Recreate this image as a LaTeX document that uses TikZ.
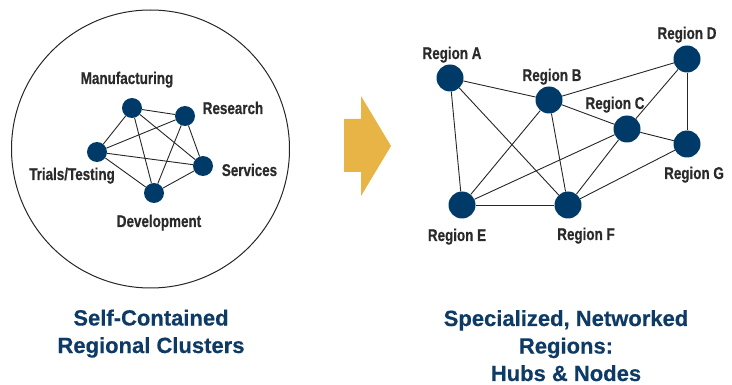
\documentclass[tikz,border=0pt]{standalone}
\usepackage{fontspec}
\setmainfont{Liberation Sans}
\newfontfamily\labelfont{Liberation Sans Bold}[FakeStretch=0.79, FakeBold=0.6]
\newfontfamily\titlefont{Liberation Sans Bold}[FakeBold=0.4]
\definecolor{hubnavy}{HTML}{003A68}
\definecolor{titlenavy}{HTML}{0D3B66}
\definecolor{labelgray}{HTML}{2A2A2A}
\definecolor{arrowgold}{HTML}{E8B446}
\begin{document}
\begin{tikzpicture}[x=1pt,y=-1pt,
  edge/.style={draw=black!85, line width=0.9pt},
  smallhub/.style={circle, fill=hubnavy, draw=none, minimum size=20pt, inner sep=0pt},
  bighub/.style={circle, fill=hubnavy, draw=none, minimum size=27pt, inner sep=0pt},
  hublabel/.style={anchor=base, inner sep=0pt, text=labelgray, font=\labelfont\fontsize{17}{17}\selectfont},
  titletext/.style={anchor=base, inner sep=0pt, text=titlenavy, align=center, font=\titlefont\fontsize{22}{27.5}\selectfont}]
\useasboundingbox (0,0) rectangle (732,385);

% enclosing cluster boundary
\draw[draw=black!85, line width=1pt] (150.5,149) circle[radius=139];

% cluster hubs
\node[smallhub] (mfg) at (132,108) {};
\node[smallhub] (res) at (185,116) {};
\node[smallhub] (tri) at (97,152) {};
\node[smallhub] (svc) at (203,166) {};
\node[smallhub] (dev) at (154,193) {};

% every cluster hub linked to every other
\foreach \a/\b in {mfg/res, mfg/tri, mfg/svc, mfg/dev, res/tri, res/svc, res/dev, tri/svc, tri/dev, svc/dev}
  \draw[edge] (\a) -- (\b);

\node[hublabel] (mfgL) at (127,84) {Manufacturing};
\node[hublabel] (resL) at (233,114) {Research};
\node[hublabel] (triL) at (72,180) {Trials/Testing};
\node[hublabel] (svcL) at (249.5,176) {Services};
\node[hublabel] (devL) at (159,227) {Development};

% transition arrow
\fill[arrowgold] (344,119) -- (361,119) -- (361,96) -- (391,146) -- (361,196) -- (361,172) -- (344,172) -- cycle;

% networked regions
\node[bighub] (A) at (450,78) {};
\node[bighub] (B) at (549,100) {};
\node[bighub] (C) at (627,129) {};
\node[bighub] (D) at (687,59) {};
\node[bighub] (G) at (687,144) {};
\node[bighub] (E) at (462,205) {};
\node[bighub] (F) at (568,205) {};

\foreach \a/\b in {A/B, A/E, A/F, B/D, B/C, B/E, B/F, C/G, C/D, C/E, C/F, D/G, E/F, F/G}
  \draw[edge] (\a) -- (\b);

\node[hublabel] (AL) at (452,59) {Region A};
\node[hublabel] (BL) at (552,81) {Region B};
\node[hublabel] (CL) at (615,109) {Region C};
\node[hublabel] (DL) at (687,39) {Region D};
\node[hublabel] (GL) at (694,179) {Region G};
\node[hublabel] (EL) at (457,241) {Region E};
\node[hublabel] (FL) at (586,240) {Region F};

% captions (base anchor sits on the last line)
\node[titletext] (leftcap) at (151,353) {Self-Contained\\Regional Clusters};
\node[titletext] (rightcap) at (566,381) {Specialized, Networked\\Regions:\\Hubs \& Nodes};
\end{tikzpicture}
\end{document}
